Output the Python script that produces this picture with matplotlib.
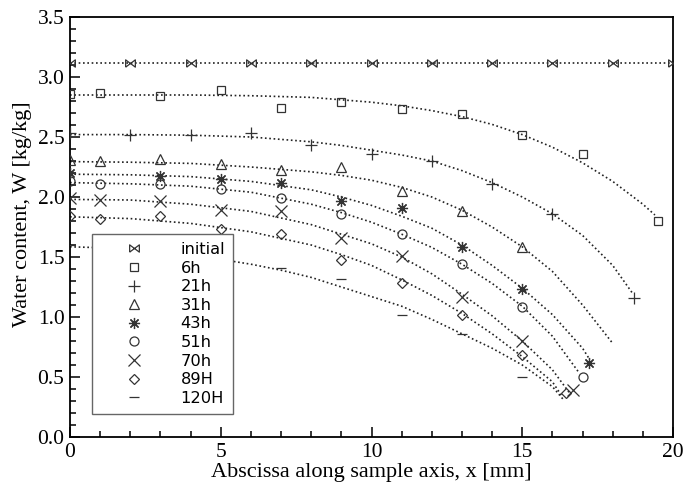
import numpy as np
from matplotlib import pyplot as plt
from matplotlib.ticker import MultipleLocator

LABELS = ['initial', '6h', '21h', '31h', '43h', '51h', '70h', '89H', '120H']

# measured points
X_INITIAL = [0, 2, 4, 6, 8, 10, 12, 14, 16, 18, 20]
Y_INITIAL = [3.12] * 11
X_6H = [0, 1, 3, 5, 7, 9, 11, 13, 15, 17, 19.5]
Y_6H = [2.86, 2.87, 2.84, 2.89, 2.74, 2.79, 2.73, 2.69, 2.52, 2.36, 1.80]
X_21H = [0, 2, 4, 6, 8, 10, 12, 14, 16, 18.7]
Y_21H = [2.53, 2.52, 2.52, 2.53, 2.43, 2.36, 2.30, 2.11, 1.86, 1.16]
X_31H = [0, 1, 3, 5, 7, 9, 11, 13, 15]
Y_31H = [2.31, 2.30, 2.32, 2.275, 2.225, 2.25, 2.05, 1.885, 1.585]
X_43H = [0, 3, 5, 7, 9, 11, 13, 15, 17.2]
Y_43H = [2.20, 2.175, 2.15, 2.12, 1.97, 1.91, 1.58, 1.23, 0.62]
X_51H = [0, 1, 3, 5, 7, 9, 11, 13, 15, 17]
Y_51H = [2.13, 2.11, 2.105, 2.07, 1.99, 1.86, 1.69, 1.44, 1.08, 0.50]
X_70H = [0, 1, 3, 5, 7, 9, 11, 13, 15, 16.67]
Y_70H = [1.99, 1.975, 1.97, 1.89, 1.885, 1.655, 1.51, 1.17, 0.80, 0.39]
X_89H = [0, 1, 3, 5, 7, 9, 11, 13, 15, 16.45]
Y_89H = [1.84, 1.82, 1.84, 1.73, 1.69, 1.475, 1.28, 1.017, 0.68, 0.37]
X_120H = [0, 7, 9, 11, 13, 15]
Y_120H = [1.60, 1.405, 1.32, 1.017, 0.855, 0.50]

# fitted curves (dotted)
CX_INITIAL = [0, 20]
CY_INITIAL = [3.12, 3.12]
CX_6H = [0, 2, 4, 6, 8, 10, 11, 12, 13, 14, 15, 16, 17, 18, 19, 19.4]
CY_6H = [2.85, 2.85, 2.85, 2.844, 2.83, 2.79, 2.76, 2.72, 2.67, 2.605, 2.52, 2.415, 2.285, 2.13, 1.94, 1.85]
CX_21H = [0, 2, 4, 6, 8, 9, 10, 11, 12, 13, 14, 15, 16, 17, 18, 18.68]
CY_21H = [2.52, 2.52, 2.515, 2.50, 2.46, 2.43, 2.39, 2.35, 2.30, 2.22, 2.12, 2.00, 1.86, 1.68, 1.43, 1.19]
CX_31H = [0, 2, 4, 6, 8, 9, 10, 11, 12, 13, 14, 15, 16, 17, 17.97]
CY_31H = [2.295, 2.29, 2.28, 2.25, 2.21, 2.18, 2.14, 2.08, 2.00, 1.89, 1.75, 1.585, 1.38, 1.10, 0.79]
CX_43H = [0, 2, 4, 6, 8, 9, 10, 11, 12, 13, 14, 15, 16, 17, 17.2]
CY_43H = [2.19, 2.185, 2.17, 2.13, 2.06, 2.00, 1.93, 1.84, 1.74, 1.60, 1.43, 1.24, 1.02, 0.74, 0.66]
CX_51H = [0, 2, 4, 6, 8, 9, 10, 11, 12, 13, 14, 15, 16, 16.9]
CY_51H = [2.12, 2.11, 2.09, 2.04, 1.94, 1.87, 1.79, 1.69, 1.58, 1.44, 1.28, 1.09, 0.84, 0.53]
CX_70H = [0, 2, 4, 6, 8, 9, 10, 11, 12, 13, 14, 15, 16, 16.56]
CY_70H = [1.98, 1.975, 1.94, 1.88, 1.77, 1.69, 1.61, 1.50, 1.36, 1.19, 1.01, 0.80, 0.56, 0.37]
CX_89H = [0, 2, 4, 6, 8, 9, 10, 11, 12, 13, 14, 15, 16, 16.33]
CY_89H = [1.835, 1.82, 1.78, 1.71, 1.60, 1.52, 1.43, 1.31, 1.18, 1.03, 0.86, 0.67, 0.46, 0.335]
CX_120H = [0, 2, 4, 6, 7, 8, 9, 10, 11, 12, 13, 14, 15, 16, 16.37]
CY_120H = [1.585, 1.57, 1.52, 1.44, 1.39, 1.33, 1.25, 1.17, 1.09, 0.98, 0.86, 0.74, 0.60, 0.42, 0.31]

BOWTIE = [(-1, -0.75), (-1, 0.75), (1, -0.75), (1, 0.75), (-1, -0.75)]
MARKERS = [
    {'marker': BOWTIE, 'ms': 7},
    {'marker': 's', 'ms': 6},
    {'marker': '+', 'ms': 9},
    {'marker': '^', 'ms': 6.5},
    {'marker': (8, 2, 0), 'ms': 8},
    {'marker': 'o', 'ms': 6.5},
    {'marker': 'x', 'ms': 8},
    {'marker': 'D', 'ms': 5},
    {'marker': '_', 'ms': 7},
]
MARK_COLOR = '#333333'

points = [(X_INITIAL, Y_INITIAL), (X_6H, Y_6H), (X_21H, Y_21H), (X_31H, Y_31H), (X_43H, Y_43H),
          (X_51H, Y_51H), (X_70H, Y_70H), (X_89H, Y_89H), (X_120H, Y_120H)]
curves = [(CX_INITIAL, CY_INITIAL), (CX_6H, CY_6H), (CX_21H, CY_21H), (CX_31H, CY_31H), (CX_43H, CY_43H),
          (CX_51H, CY_51H), (CX_70H, CY_70H), (CX_89H, CY_89H), (CX_120H, CY_120H)]

plt.rcParams['font.family'] = 'Liberation Serif'
fig = plt.figure(figsize=(6.84, 4.88), dpi=100)
ax = fig.add_axes([70 / 684, 51 / 488, 603 / 684, 420 / 488])

for (cx, cy) in curves:
    ax.plot(cx, cy, color='#222222', linestyle=(0, (1, 1.6)), lw=1.2, zorder=2)

handles = []
for (px, py), style, label in zip(points, MARKERS, LABELS):
    h, = ax.plot(px, py, linestyle='none', marker=style['marker'], ms=style['ms'], mfc='none',
                 mec=MARK_COLOR, mew=0.9, label=label, zorder=3)
    handles.append(h)

ax.set_xlim(0, 20)
ax.set_ylim(0, 3.5)
ax.xaxis.set_major_locator(MultipleLocator(5))
ax.xaxis.set_minor_locator(MultipleLocator(1))
ax.yaxis.set_major_locator(MultipleLocator(0.5))
ax.yaxis.set_minor_locator(MultipleLocator(0.1))
ax.yaxis.set_major_formatter(plt.FormatStrFormatter('%.1f'))
ax.tick_params(which='both', direction='in', top=False, right=False, labelsize=15.5, width=1.1)
ax.tick_params(which='major', length=7, pad=4)
ax.tick_params(which='minor', length=4)
for spine in ax.spines.values():
    spine.set_linewidth(1.3)

ax.set_xlabel('Abscissa along sample axis, x [mm]', fontsize=16, labelpad=1)
ax.set_ylabel('Water content, W [kg/kg]', fontsize=16, labelpad=4)
ax.yaxis.set_label_coords(-0.063, 0.53)

leg = ax.legend(handles=handles, loc='lower left', bbox_to_anchor=(0.036, 0.055), borderaxespad=0,
                frameon=True, fancybox=False, framealpha=1, edgecolor='#666666', numpoints=1,
                handlelength=4.2, handletextpad=0.77, labelspacing=0.22, borderpad=0.5,
                prop={'family': 'DejaVu Sans', 'size': 11.7})
leg.get_frame().set_linewidth(1.0)
leg.set_zorder(5)

plt.savefig('out.png', dpi=100)
plt.close()
